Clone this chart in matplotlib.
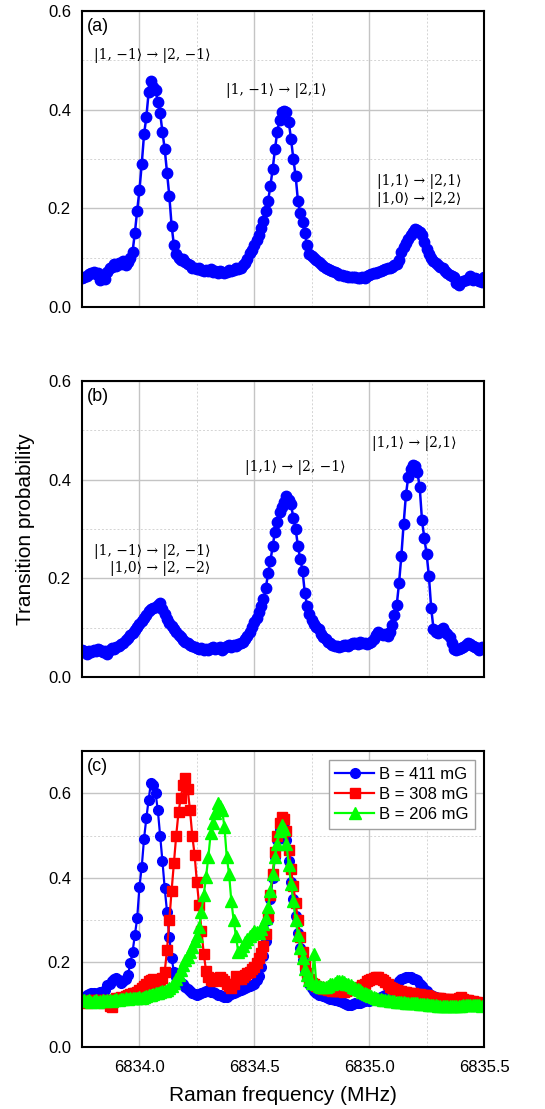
import numpy as np
import matplotlib.pyplot as plt
from matplotlib.ticker import MultipleLocator

plt.rcParams['font.family'] = ['Liberation Sans', 'DejaVu Sans']

# Raman detuning scan, 10 kHz steps
freq = np.round(np.arange(6833.75, 6835.505, 0.01), 2)

prob_a = [
    0.058, 0.060, 0.062, 0.066, 0.068, 0.070, 0.066, 0.068, 0.055, 0.060,
    0.056, 0.070, 0.078, 0.082, 0.088, 0.084, 0.090, 0.088, 0.093, 0.085,
    0.092, 0.100, 0.112, 0.150, 0.195, 0.237, 0.290, 0.350, 0.385, 0.435,
    0.458, 0.445, 0.440, 0.416, 0.393, 0.355, 0.320, 0.272, 0.225, 0.165,
    0.125, 0.108, 0.100, 0.096, 0.098, 0.092, 0.088, 0.085, 0.080, 0.078,
    0.076, 0.078, 0.074, 0.073, 0.075, 0.072, 0.076, 0.070, 0.072, 0.069,
    0.073, 0.071, 0.068, 0.070, 0.074, 0.072, 0.075, 0.078, 0.076, 0.080,
    0.085, 0.090, 0.098, 0.110, 0.115, 0.125, 0.135, 0.145, 0.160, 0.175,
    0.195, 0.215, 0.245, 0.280, 0.320, 0.355, 0.380, 0.395, 0.398, 0.395,
    0.375, 0.340, 0.300, 0.265, 0.215, 0.190, 0.172, 0.150, 0.125, 0.108,
    0.103, 0.100, 0.095, 0.092, 0.088, 0.084, 0.080, 0.077, 0.075, 0.072,
    0.070, 0.068, 0.065, 0.064, 0.063, 0.062, 0.061, 0.060, 0.060, 0.060,
    0.059, 0.058, 0.060, 0.059, 0.062, 0.064, 0.066, 0.068, 0.068, 0.070,
    0.072, 0.074, 0.076, 0.078, 0.080, 0.082, 0.085, 0.088, 0.095, 0.112,
    0.122, 0.130, 0.138, 0.145, 0.152, 0.158, 0.156, 0.152, 0.145, 0.132,
    0.118, 0.108, 0.100, 0.094, 0.090, 0.086, 0.082, 0.078, 0.072, 0.068,
    0.065, 0.062, 0.060, 0.048, 0.045, 0.050, 0.052, 0.055, 0.056, 0.062,
    0.055, 0.058, 0.056, 0.052, 0.050, 0.060,
]

prob_b = [
    0.055, 0.052, 0.046, 0.052, 0.050, 0.055, 0.053, 0.056, 0.055, 0.050,
    0.052, 0.046, 0.055, 0.058, 0.056, 0.060, 0.062, 0.066, 0.070, 0.075,
    0.079, 0.085, 0.090, 0.096, 0.102, 0.108, 0.114, 0.120, 0.126, 0.133,
    0.138, 0.140, 0.142, 0.146, 0.150, 0.138, 0.128, 0.118, 0.110, 0.104,
    0.098, 0.092, 0.086, 0.082, 0.076, 0.072, 0.068, 0.065, 0.062, 0.060,
    0.058, 0.056, 0.058, 0.055, 0.057, 0.054, 0.058, 0.060, 0.056, 0.058,
    0.060, 0.055, 0.058, 0.062, 0.064, 0.060, 0.065, 0.063, 0.066, 0.068,
    0.072, 0.078, 0.084, 0.092, 0.102, 0.112, 0.120, 0.132, 0.145, 0.158,
    0.180, 0.210, 0.235, 0.265, 0.295, 0.315, 0.335, 0.345, 0.355, 0.368,
    0.358, 0.350, 0.322, 0.300, 0.265, 0.240, 0.215, 0.170, 0.145, 0.128,
    0.115, 0.108, 0.102, 0.098, 0.088, 0.082, 0.078, 0.072, 0.068, 0.065,
    0.062, 0.063, 0.060, 0.062, 0.065, 0.064, 0.062, 0.066, 0.068, 0.070,
    0.066, 0.072, 0.070, 0.068, 0.066, 0.070, 0.072, 0.078, 0.085, 0.092,
    0.088, 0.085, 0.088, 0.084, 0.092, 0.105, 0.125, 0.146, 0.190, 0.245,
    0.310, 0.369, 0.405, 0.422, 0.430, 0.428, 0.415, 0.385, 0.318, 0.282,
    0.250, 0.205, 0.140, 0.098, 0.092, 0.090, 0.095, 0.099, 0.092, 0.088,
    0.082, 0.070, 0.057, 0.055, 0.056, 0.058, 0.060, 0.064, 0.068, 0.066,
    0.062, 0.060, 0.058, 0.055, 0.060, 0.058,
]

prob_411 = [
    0.115, 0.118, 0.122, 0.125, 0.127, 0.127, 0.125, 0.128, 0.130, 0.128,
    0.135, 0.147, 0.150, 0.155, 0.160, 0.163, 0.158, 0.152, 0.155, 0.160,
    0.170, 0.198, 0.225, 0.265, 0.304, 0.379, 0.426, 0.493, 0.541, 0.585,
    0.625, 0.620, 0.600, 0.560, 0.500, 0.440, 0.375, 0.320, 0.260, 0.210,
    0.178, 0.165, 0.158, 0.152, 0.150, 0.142, 0.136, 0.132, 0.128, 0.125,
    0.124, 0.126, 0.128, 0.130, 0.132, 0.132, 0.130, 0.131, 0.128, 0.124,
    0.122, 0.120, 0.118, 0.119, 0.122, 0.125, 0.128, 0.130, 0.132, 0.135,
    0.138, 0.140, 0.142, 0.145, 0.147, 0.150, 0.158, 0.168, 0.190, 0.215,
    0.250, 0.300, 0.350, 0.400, 0.450, 0.490, 0.515, 0.530, 0.520, 0.490,
    0.440, 0.390, 0.350, 0.310, 0.270, 0.235, 0.205, 0.180, 0.165, 0.150,
    0.140, 0.132, 0.128, 0.124, 0.122, 0.120, 0.118, 0.116, 0.114, 0.115,
    0.112, 0.110, 0.108, 0.106, 0.104, 0.102, 0.100, 0.100, 0.102, 0.104,
    0.105, 0.104, 0.106, 0.108, 0.110, 0.108, 0.110, 0.112, 0.112, 0.115,
    0.118, 0.120, 0.122, 0.125, 0.128, 0.132, 0.140, 0.148, 0.155, 0.160,
    0.164, 0.165, 0.166, 0.165, 0.162, 0.160, 0.158, 0.150, 0.145, 0.138,
    0.132, 0.126, 0.122, 0.120, 0.118, 0.117, 0.116, 0.115, 0.114, 0.112,
    0.110, 0.109, 0.108, 0.107, 0.106, 0.106, 0.105, 0.104, 0.104, 0.103,
    0.103, 0.102, 0.101, 0.100, 0.100, 0.098,
]

prob_308 = [
    0.108, 0.106, 0.105, 0.107, 0.110, 0.110, 0.108, 0.112, 0.110, 0.105,
    0.110, 0.112, 0.098, 0.095, 0.112, 0.115, 0.116, 0.118, 0.115, 0.120,
    0.122, 0.125, 0.127, 0.128, 0.130, 0.135, 0.140, 0.145, 0.150, 0.155,
    0.158, 0.160, 0.152, 0.150, 0.158, 0.163, 0.178, 0.230, 0.300, 0.370,
    0.435, 0.500, 0.555, 0.590, 0.620, 0.635, 0.610, 0.560, 0.500, 0.455,
    0.390, 0.335, 0.275, 0.220, 0.180, 0.166, 0.158, 0.156, 0.160, 0.164,
    0.166, 0.160, 0.155, 0.150, 0.145, 0.140, 0.150, 0.168, 0.162, 0.160,
    0.165, 0.170, 0.175, 0.178, 0.185, 0.190, 0.198, 0.210, 0.222, 0.238,
    0.268, 0.310, 0.360, 0.410, 0.460, 0.500, 0.530, 0.545, 0.540, 0.510,
    0.465, 0.420, 0.380, 0.340, 0.300, 0.260, 0.225, 0.195, 0.175, 0.162,
    0.152, 0.148, 0.145, 0.142, 0.140, 0.138, 0.136, 0.135, 0.134, 0.133,
    0.132, 0.132, 0.133, 0.132, 0.131, 0.133, 0.134, 0.135, 0.136, 0.138,
    0.140, 0.142, 0.146, 0.150, 0.155, 0.158, 0.162, 0.164, 0.166, 0.165,
    0.162, 0.158, 0.153, 0.148, 0.143, 0.140, 0.138, 0.135, 0.133, 0.132,
    0.130, 0.130, 0.128, 0.128, 0.127, 0.126, 0.125, 0.125, 0.124, 0.123,
    0.122, 0.120, 0.118, 0.117, 0.116, 0.116, 0.115, 0.114, 0.113, 0.114,
    0.112, 0.113, 0.112, 0.113, 0.116, 0.118, 0.114, 0.112, 0.110, 0.108,
    0.108, 0.107, 0.106, 0.105, 0.104, 0.104,
]

prob_206 = [
    0.112, 0.110, 0.108, 0.110, 0.106, 0.108, 0.110, 0.107, 0.109, 0.110,
    0.108, 0.110, 0.112, 0.109, 0.111, 0.113, 0.112, 0.114, 0.113, 0.115,
    0.114, 0.116, 0.115, 0.117, 0.116, 0.118, 0.117, 0.119, 0.120, 0.122,
    0.123, 0.125, 0.127, 0.128, 0.130, 0.132, 0.133, 0.135, 0.140, 0.145,
    0.151, 0.160, 0.170, 0.182, 0.195, 0.205, 0.213, 0.225, 0.237, 0.250,
    0.262, 0.284, 0.320, 0.360, 0.403, 0.450, 0.505, 0.530, 0.553, 0.576,
    0.570, 0.560, 0.520, 0.450, 0.410, 0.345, 0.300, 0.262, 0.225, 0.230,
    0.240, 0.248, 0.255, 0.262, 0.268, 0.275, 0.272, 0.270, 0.278, 0.290,
    0.305, 0.330, 0.370, 0.410, 0.450, 0.480, 0.510, 0.525, 0.515, 0.480,
    0.430, 0.385, 0.345, 0.300, 0.265, 0.235, 0.210, 0.185, 0.170, 0.158,
    0.152, 0.220, 0.148, 0.145, 0.143, 0.142, 0.143, 0.145, 0.148, 0.150,
    0.152, 0.155, 0.156, 0.155, 0.153, 0.150, 0.148, 0.146, 0.143, 0.140,
    0.137, 0.134, 0.131, 0.128, 0.125, 0.122, 0.120, 0.118, 0.116, 0.114,
    0.113, 0.112, 0.111, 0.110, 0.109, 0.108, 0.108, 0.107, 0.107, 0.106,
    0.106, 0.105, 0.105, 0.104, 0.104, 0.103, 0.103, 0.102, 0.102, 0.101,
    0.101, 0.100, 0.100, 0.099, 0.099, 0.098, 0.098, 0.097, 0.097, 0.096,
    0.096, 0.097, 0.096, 0.098, 0.097, 0.098, 0.099, 0.100, 0.099, 0.100,
    0.100, 0.099, 0.100, 0.099, 0.098, 0.099,
]

field_labels = ['B = 411 mG', 'B = 308 mG', 'B = 206 mG']

labels_a = ['|1, \u22121\u27e9 \u2192 |2, \u22121\u27e9',
            '|1, \u22121\u27e9 \u2192 |2,1\u27e9',
            '|1,1\u27e9 \u2192 |2,1\u27e9\n|1,0\u27e9 \u2192 |2,2\u27e9']
labels_b = ['|1, \u22121\u27e9 \u2192 |2, \u22121\u27e9\n|1,0\u27e9 \u2192 |2, \u22122\u27e9',
            '|1,1\u27e9 \u2192 |2, \u22121\u27e9',
            '|1,1\u27e9 \u2192 |2,1\u27e9']

serif = ['DejaVu Serif', 'DejaVu Sans']


def style_axes(ax, ymax, tag):
    ax.set_xlim(6833.75, 6835.5)
    ax.set_ylim(0, ymax)
    ax.xaxis.set_major_locator(MultipleLocator(0.5))
    ax.xaxis.set_minor_locator(MultipleLocator(0.25))
    ax.yaxis.set_major_locator(MultipleLocator(0.2))
    ax.yaxis.set_minor_locator(MultipleLocator(0.1))
    ax.yaxis.set_major_formatter('{x:.1f}')
    ax.xaxis.set_major_formatter('{x:.1f}')
    ax.grid(which='major', color='#c4c4c4', lw=1.0)
    ax.grid(which='minor', color='#d4d4d4', lw=0.7, linestyle=(0, (2, 2)))
    ax.set_axisbelow(True)
    ax.tick_params(which='both', length=0, labelsize=12)
    ax.tick_params(axis='y', pad=8)
    ax.tick_params(axis='x', pad=9)
    for sp in ax.spines.values():
        sp.set_linewidth(1.5)
    ax.text(0.013, 0.975, tag, transform=ax.transAxes, fontsize=13, va='top')


fig = plt.figure(figsize=(5.45, 11.09), dpi=100)
ax_a = fig.add_axes([0.1505, 0.7232, 0.7376, 0.2669])
ax_b = fig.add_axes([0.1505, 0.3895, 0.7376, 0.2669])
ax_c = fig.add_axes([0.1505, 0.0559, 0.7376, 0.2669])

# (a)
ax_a.plot(freq, prob_a, '-o', color='blue', lw=1.8, ms=7.5)
style_axes(ax_a, 0.6, '(a)')
ax_a.tick_params(axis='x', labelbottom=False)
ax_a.text(6834.055, 0.51, labels_a[0], ha='center', va='center', fontsize=10, family=serif)
ax_a.text(6834.595, 0.438, labels_a[1], ha='center', va='center', fontsize=10, family=serif)
ax_a.text(6835.035, 0.236, labels_a[2], ha='left', va='center', fontsize=10, family=serif,
          linespacing=1.2)

# (b)
ax_b.plot(freq, prob_b, '-o', color='blue', lw=1.8, ms=7.5)
style_axes(ax_b, 0.6, '(b)')
ax_b.tick_params(axis='x', labelbottom=False)
ax_b.set_ylabel('Transition probability', fontsize=15, labelpad=9)
ax_b.text(6834.31, 0.238, labels_b[0], ha='right', va='center', fontsize=10, family=serif,
          multialignment='right', linespacing=1.2)
ax_b.text(6834.68, 0.424, labels_b[1], ha='center', va='center', fontsize=10, family=serif)
ax_b.text(6835.195, 0.474, labels_b[2], ha='center', va='center', fontsize=10, family=serif)

# (c)
ax_c.plot(freq, prob_411, '-o', color='blue', lw=1.6, ms=7, label=field_labels[0])
ax_c.plot(freq, prob_308, '-s', color='red', lw=1.6, ms=6.5, label=field_labels[1])
ax_c.plot(freq, prob_206, '-^', color='#00ff00', lw=1.6, ms=8, label=field_labels[2])
style_axes(ax_c, 0.7, '(c)')
ax_c.set_xlabel('Raman frequency (MHz)', fontsize=15, labelpad=8)
leg = ax_c.legend(loc='upper right', fontsize=12, numpoints=1, fancybox=False,
                  edgecolor='#a0a0a0', framealpha=1, handlelength=2.3,
                  handletextpad=0.3, labelspacing=0.3, borderaxespad=0.55,
                  borderpad=0.4)
leg.get_frame().set_linewidth(1.0)

fig.savefig('out.png', dpi=100)
